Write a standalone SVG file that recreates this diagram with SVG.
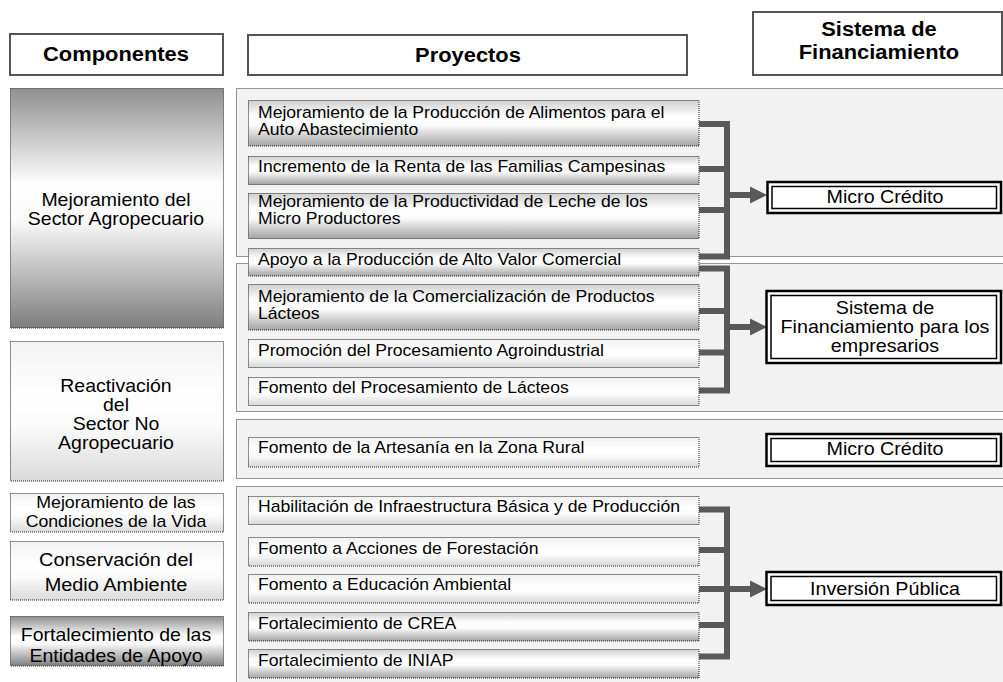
<svg xmlns="http://www.w3.org/2000/svg" width="1003" height="682" viewBox="0 0 1003 682">
<defs>
  <linearGradient id="gProjDark" x1="0" y1="0" x2="0" y2="1">
    <stop offset="0" stop-color="#d0d0d0"/>
    <stop offset="0.35" stop-color="#ffffff"/>
    <stop offset="0.55" stop-color="#fbfbfb"/>
    <stop offset="1" stop-color="#a3a3a3"/>
  </linearGradient>
  <linearGradient id="gProjLight" x1="0" y1="0" x2="0" y2="1">
    <stop offset="0" stop-color="#f0f0f0"/>
    <stop offset="0.4" stop-color="#ffffff"/>
    <stop offset="0.6" stop-color="#fcfcfc"/>
    <stop offset="1" stop-color="#d8d8d8"/>
  </linearGradient>
  <linearGradient id="gCompDark" x1="0" y1="0" x2="0" y2="1">
    <stop offset="0" stop-color="#8f8f8f"/>
    <stop offset="0.4" stop-color="#ffffff"/>
    <stop offset="0.55" stop-color="#fafafa"/>
    <stop offset="1" stop-color="#7d7d7d"/>
  </linearGradient>
  <linearGradient id="gCompLight" x1="0" y1="0" x2="0" y2="1">
    <stop offset="0" stop-color="#f3f3f3"/>
    <stop offset="0.4" stop-color="#ffffff"/>
    <stop offset="0.6" stop-color="#fbfbfb"/>
    <stop offset="1" stop-color="#dadada"/>
  </linearGradient>
  <marker id="ah" markerUnits="userSpaceOnUse" markerWidth="18" markerHeight="18" refX="0" refY="8.5" orient="auto" overflow="visible">
    <path d="M0 0 L17 8.5 L0 17 Z" fill="#595959"/>
  </marker>
</defs>
<style>
  .panel { fill:#f2f2f2; stroke:#333; stroke-width:1; stroke-dasharray:1 1; }
  .dot { stroke:#222; stroke-width:1; stroke-dasharray:1 1; }
  .pd { fill:url(#gProjDark); }
  .pl { fill:url(#gProjLight); }
  .cd { fill:url(#gCompDark); }
  .cl { fill:url(#gCompLight); }
  .hdr { fill:#fff; stroke:#555; stroke-width:2; }
  .outer { fill:#fff; stroke:#000; stroke-width:2.5; }
  .inner { fill:none; stroke:#000; stroke-width:1.5; }
  text { font-family:"Liberation Sans", Arial, Helvetica, sans-serif; fill:#000; }
  .ht { font-weight:bold; font-size:19.9px; text-anchor:middle; }
  .pt { font-size:16px; }
  .ct { font-size:17.7px; text-anchor:middle; }
  .cs { font-size:16.1px; text-anchor:middle; }
  .cb { font-size:18.1px; text-anchor:middle; }
  .rt { font-size:17.9px; text-anchor:middle; }
  .conn { fill:none; stroke:#595959; stroke-width:6; stroke-linejoin:miter; stroke-linecap:butt; }
</style>

<rect x="0" y="0" width="1003" height="682" fill="#fff"/>

<g id="panels">
  <rect class="panel" x="236.5" y="88.5" width="800" height="168"/>
  <rect class="panel" x="236.5" y="263.5" width="800" height="148"/>
  <rect class="panel" x="236.5" y="419.5" width="800" height="59"/>
  <rect class="panel" x="236.5" y="486.5" width="800" height="210"/>
</g>

<g id="header-componentes">
  <rect class="hdr" x="10" y="34" width="213" height="41"/>
  <text class="ht" x="116" y="61" transform="matrix(1.1 0 0 1 -11.6 0)">Componentes</text>
</g>
<g id="header-proyectos">
  <rect class="hdr" x="248" y="35" width="439" height="40"/>
  <text class="ht" x="468" y="62" transform="matrix(1.1 0 0 1 -46.8 0)">Proyectos</text>
</g>
<g id="header-sistema">
  <rect class="hdr" x="753" y="12" width="249" height="63"/>
  <text class="ht" transform="matrix(1.1 0 0 1 -87.9 0)"><tspan x="879" y="36">Sistema de</tspan><tspan x="879" y="59">Financiamiento</tspan></text>
</g>

<g id="comp-agropecuario">
  <rect class="cd dot" x="10.5" y="88.5" width="213" height="239.5"/>
  <text class="ct" transform="matrix(1.1 0 0 1 -11.6 0)"><tspan x="116" y="206">Mejoramiento del</tspan><tspan x="116" y="225">Sector Agropecuario</tspan></text>
</g>
<g id="comp-no-agropecuario">
  <rect class="cl dot" x="10.5" y="341.5" width="213" height="139.5"/>
  <text class="ct" transform="matrix(1.1 0 0 1 -11.6 0)"><tspan x="116" y="392.5">Reactivación</tspan><tspan x="116" y="411.5">del</tspan><tspan x="116" y="430.5">Sector No</tspan><tspan x="116" y="449.5">Agropecuario</tspan></text>
</g>
<g id="comp-condiciones">
  <rect class="cl dot" x="10.5" y="493.5" width="213" height="38.5"/>
  <text class="cs" transform="matrix(1.1 0 0 1 -11.6 0)"><tspan x="116" y="508">Mejoramiento de las</tspan><tspan x="116" y="527">Condiciones de la Vida</tspan></text>
</g>
<g id="comp-medio-ambiente">
  <rect class="cl dot" x="10.5" y="541.5" width="213" height="58.5"/>
  <text class="cb" transform="matrix(1.1 0 0 1 -11.6 0)"><tspan x="116" y="566">Conservación del</tspan><tspan x="116" y="591">Medio Ambiente</tspan></text>
</g>
<g id="comp-entidades">
  <rect class="cd dot" x="10.5" y="616.5" width="213" height="49.5"/>
  <text class="ct" transform="matrix(1.1 0 0 1 -11.6 0)"><tspan x="116" y="641">Fortalecimiento de las</tspan><tspan x="116" y="662">Entidades de Apoyo</tspan></text>
</g>

<g id="proj-1">
  <rect class="pd dot" x="248.5" y="100.5" width="450.5" height="45.5"/>
  <text class="pt" transform="matrix(1.1 0 0 1 -25.8 0)"><tspan x="258" y="118.5">Mejoramiento de la Producción de Alimentos para el</tspan><tspan x="258" y="135">Auto Abastecimiento</tspan></text>
</g>
<g id="proj-2">
  <rect class="pd dot" x="248.5" y="156.5" width="450.5" height="28"/>
  <text class="pt" x="258" y="172.5" transform="matrix(1.1 0 0 1 -25.8 0)">Incremento de la Renta de las Familias Campesinas</text>
</g>
<g id="proj-3">
  <rect class="pd dot" x="248.5" y="193.5" width="450.5" height="45"/>
  <text class="pt" transform="matrix(1.1 0 0 1 -25.8 0)"><tspan x="258" y="207">Mejoramiento de la Productividad de Leche de los</tspan><tspan x="258" y="224">Micro Productores</tspan></text>
</g>
<g id="proj-4">
  <rect class="pd dot" x="248.5" y="248.5" width="450.5" height="27.5"/>
  <text class="pt" x="258" y="265.5" transform="matrix(1.1 0 0 1 -25.8 0)">Apoyo a la Producción de Alto Valor Comercial</text>
</g>
<g id="proj-5">
  <rect class="pd dot" x="248.5" y="284.5" width="450.5" height="45.5"/>
  <text class="pt" transform="matrix(1.1 0 0 1 -25.8 0)"><tspan x="258" y="302">Mejoramiento de la Comercialización de Productos</tspan><tspan x="258" y="319">Lácteos</tspan></text>
</g>
<g id="proj-6">
  <rect class="pl dot" x="248.5" y="339.5" width="450.5" height="28"/>
  <text class="pt" x="258" y="356" transform="matrix(1.1 0 0 1 -25.8 0)">Promoción del Procesamiento Agroindustrial</text>
</g>
<g id="proj-7">
  <rect class="pl dot" x="248.5" y="377.5" width="450.5" height="28"/>
  <text class="pt" x="258" y="393.5" transform="matrix(1.1 0 0 1 -25.8 0)">Fomento del Procesamiento de Lácteos</text>
</g>
<g id="proj-8">
  <rect class="pl dot" x="248.5" y="437.5" width="450.5" height="29.5"/>
  <text class="pt" x="258" y="453.5" transform="matrix(1.1 0 0 1 -25.8 0)">Fomento de la Artesanía en la Zona Rural</text>
</g>
<g id="proj-9">
  <rect class="pl dot" x="248.5" y="496.5" width="450.5" height="28"/>
  <text class="pt" x="258" y="512" transform="matrix(1.1 0 0 1 -25.8 0)">Habilitación de Infraestructura Básica y de Producción</text>
</g>
<g id="proj-10">
  <rect class="pl dot" x="248.5" y="537.5" width="450.5" height="28.5"/>
  <text class="pt" x="258" y="554" transform="matrix(1.1 0 0 1 -25.8 0)">Fomento a Acciones de Forestación</text>
</g>
<g id="proj-11">
  <rect class="pl dot" x="248.5" y="574.5" width="450.5" height="28.5"/>
  <text class="pt" x="258" y="590.5" transform="matrix(1.1 0 0 1 -25.8 0)">Fomento a Educación Ambiental</text>
</g>
<g id="proj-12">
  <rect class="pd dot" x="248.5" y="612.5" width="450.5" height="28.5"/>
  <text class="pt" x="258" y="629" transform="matrix(1.1 0 0 1 -25.8 0)">Fortalecimiento de CREA</text>
</g>
<g id="proj-13">
  <rect class="pd dot" x="248.5" y="649.5" width="450.5" height="28.5"/>
  <text class="pt" x="258" y="666.5" transform="matrix(1.1 0 0 1 -25.8 0)">Fortalecimiento de INIAP</text>
</g>

<g id="connectors">
  <path class="conn" d="M699 124 H727 V256.5 H699 M699 169 H727 M699 210 H727"/>
  <path class="conn" d="M727 195 H750" marker-end="url(#ah)"/>
  <path class="conn" d="M699 268.5 H727 V390.5 H699 M699 311 H727 M699 352.5 H727"/>
  <path class="conn" d="M727 327 H750" marker-end="url(#ah)"/>
  <path class="conn" d="M699 509.5 H727 V656.5 H699 M699 550 H727 M699 589 H727 M699 625 H727"/>
  <path class="conn" d="M727 589 H750" marker-end="url(#ah)"/>
</g>

<g id="fin-microcredito-1">
  <rect class="outer" x="767.5" y="182" width="233.5" height="31"/>
  <rect class="inner" x="772" y="186.5" width="224.5" height="22"/>
  <text class="rt" x="885" y="203" transform="matrix(1.1 0 0 1 -88.5 0)">Micro Crédito</text>
</g>
<g id="fin-empresarios">
  <rect class="outer" x="766.5" y="291" width="234.5" height="72"/>
  <rect class="inner" x="771" y="295.5" width="225.5" height="63"/>
  <text class="rt" transform="matrix(1.1 0 0 1 -88.5 0)"><tspan x="885" y="314">Sistema de</tspan><tspan x="885" y="333">Financiamiento para los</tspan><tspan x="885" y="352">empresarios</tspan></text>
</g>
<g id="fin-microcredito-2">
  <rect class="outer" x="766.5" y="434" width="234.5" height="32"/>
  <rect class="inner" x="771" y="438.5" width="225.5" height="23"/>
  <text class="rt" x="885" y="455" transform="matrix(1.1 0 0 1 -88.5 0)">Micro Crédito</text>
</g>
<g id="fin-inversion">
  <rect class="outer" x="766.5" y="572" width="234.5" height="33"/>
  <rect class="inner" x="771" y="576.5" width="225.5" height="24"/>
  <text class="rt" x="885" y="595" transform="matrix(1.1 0 0 1 -88.5 0)">Inversión Pública</text>
</g>
</svg>
